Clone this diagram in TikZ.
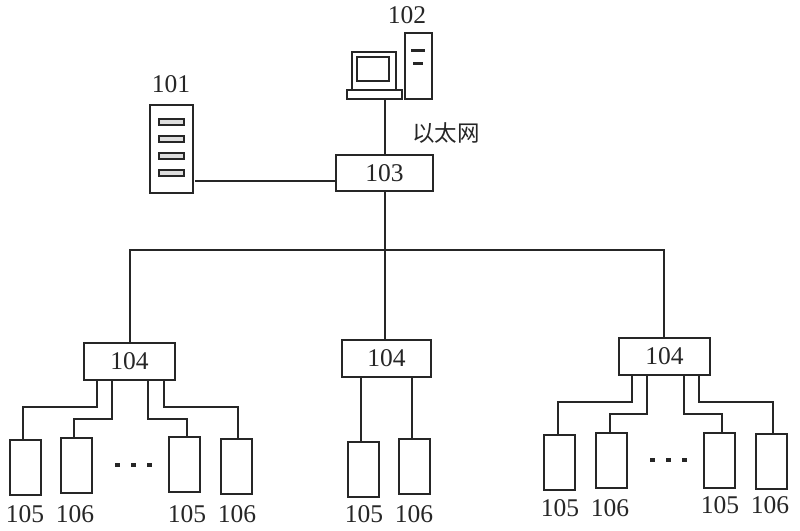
\documentclass[tikz,border=0pt]{standalone}
\usepackage{fontspec}
\setmainfont{Liberation Serif}
\newfontfamily\cjk{Noto Sans CJK SC}
\usetikzlibrary{calc}
\definecolor{ink}{HTML}{262626}
\tikzset{
  every node/.style={inner sep=0pt,outer sep=0pt,text=ink},
  num/.style={font=\fontsize{25.5}{25.5}\selectfont},
  hub/.style={draw=ink,line width=2pt,fill=white,minimum width=91pt,minimum height=37pt,font=\fontsize{25.5}{25.5}\selectfont},
  unit/.style={draw=ink,line width=2pt,minimum width=31pt,minimum height=55pt},
  part/.style={draw=ink,line width=2pt,fill=white},
  wire/.style={draw=ink,line width=2pt},
  slot/.style={draw=ink,line width=2pt,fill=ink!15,minimum width=25pt,minimum height=6pt},
  bar/.style={fill=ink,minimum height=3pt},
  dot/.style={fill=ink,minimum width=5pt,minimum height=4pt}
}
\begin{document}
\begin{tikzpicture}[x=1pt,y=-1pt]
\useasboundingbox[fill=white] (0,0) rectangle (800,530);
% server 101
\node[part,minimum width=43pt,minimum height=88pt] (srv) at (171.5,149) {};
\node[slot] (s1) at (171.5,122) {};
\node[slot] (s2) at (171.5,139) {};
\node[slot] (s3) at (171.5,156) {};
\node[slot] (s4) at (171.5,173) {};
\node[num] (t101) at (171,84) {101};
% computer 102
\node[part,minimum width=27pt,minimum height=66pt] (tower) at (418.5,66) {};
\node[bar,minimum width=14pt] (b1) at (418,50) {};
\node[bar,minimum width=10pt] (b2) at (418,63) {};
\node[part,minimum width=44pt,minimum height=38pt] (mon) at (374,71) {};
\node[draw=ink,line width=2pt,minimum width=32pt,minimum height=24pt] (scr) at (373,69) {};
\node[part,minimum width=55pt,minimum height=9pt] (kbd) at (374.5,94.5) {};
\node[num] (t102) at (407,15) {102};
\node[font=\cjk\fontsize{22.5}{22.5}\selectfont] (eth) at (446,133) {以太网};
% switch 103
\node[hub,minimum width=97pt,minimum height=36pt] (sw) at (384.5,173) {103};
% 104 units
\node[hub] (ha) at (129.5,361.5) {104\hspace{3pt}};
\node[hub,minimum width=89pt] (hb) at (386.5,358.5) {104\hspace{3pt}};
\node[hub] (hc) at (664.5,356.5) {104};
% terminals
\node[unit] (a1) at (25.5,467.5) {};
\node[unit] (a2) at (76.5,465.5) {};
\node[unit] (a3) at (184.5,464.5) {};
\node[unit] (a4) at (236.5,466.5) {};
\node[unit] (b1u) at (363.5,469.5) {};
\node[unit] (b2u) at (414.5,466.5) {};
\node[unit] (c1) at (559.5,462.5) {};
\node[unit] (c2) at (611.5,460.5) {};
\node[unit] (c3) at (719.5,460.5) {};
\node[unit] (c4) at (771.5,461.5) {};
% labels
\foreach \n/\x/\y/\s in {la1/25/514/105,la2/75/514/106,la3/187/514/105,la4/237/514/106,
  lb1/364/514/105,lb2/414/514/106,
  lc1/560/508/105,lc2/610/508/106,lc3/720/505/105,lc4/770/505/106}
  \node[num] (\n) at (\x,\y) {\s};
% dots
\foreach \n/\x/\y in {d1/117.5/465,d2/133.5/465,d3/149.5/465,e1/652.5/460,e2/668.5/460,e3/684.5/460}
  \node[dot] (\n) at (\x,\y) {};
% top wires
\coordinate (busm) at (385,250);
\draw[wire] (kbd.south -| busm) -- (sw.north -| busm);
\draw[wire] ([xshift=2pt]srv.east |- 0,181) -- (sw.west |- 0,181);
\draw[wire] (sw.south -| busm) -- (busm);
\draw[wire] ([xshift=.5pt]ha.north) -- ([xshift=.5pt]ha.north |- busm) -- ([xshift=-.5pt]hc.north |- busm) -- ([xshift=-.5pt]hc.north);
\draw[wire] (hb.north -| busm) -- (busm);
% group a
\draw[wire] ([xshift=13pt]ha.south west) |- (23,407) -- (a1.north -| 23,0);
\draw[wire] ([xshift=28pt]ha.south west) |- (74,419) -- (a2.north -| 74,0);
\draw[wire] ([xshift=64pt]ha.south west) |- (187,419) -- (a3.north -| 187,0);
\draw[wire] ([xshift=80pt]ha.south west) |- (238,407) -- (a4.north -| 238,0);
% group b
\draw[wire] (b1u.north -| 361,0) -- (hb.south -| 361,0);
\draw[wire] (b2u.north -| 412,0) -- (hb.south -| 412,0);
% group c
\draw[wire] ([xshift=13pt]hc.south west) |- (558,402) -- (c1.north -| 558,0);
\draw[wire] ([xshift=28pt]hc.south west) |- (610,414) -- (c2.north -| 610,0);
\draw[wire] ([xshift=65pt]hc.south west) |- (722,414) -- (c3.north -| 722,0);
\draw[wire] ([xshift=80pt]hc.south west) |- (773,402) -- (c4.north -| 773,0);
\end{tikzpicture}
\end{document}
